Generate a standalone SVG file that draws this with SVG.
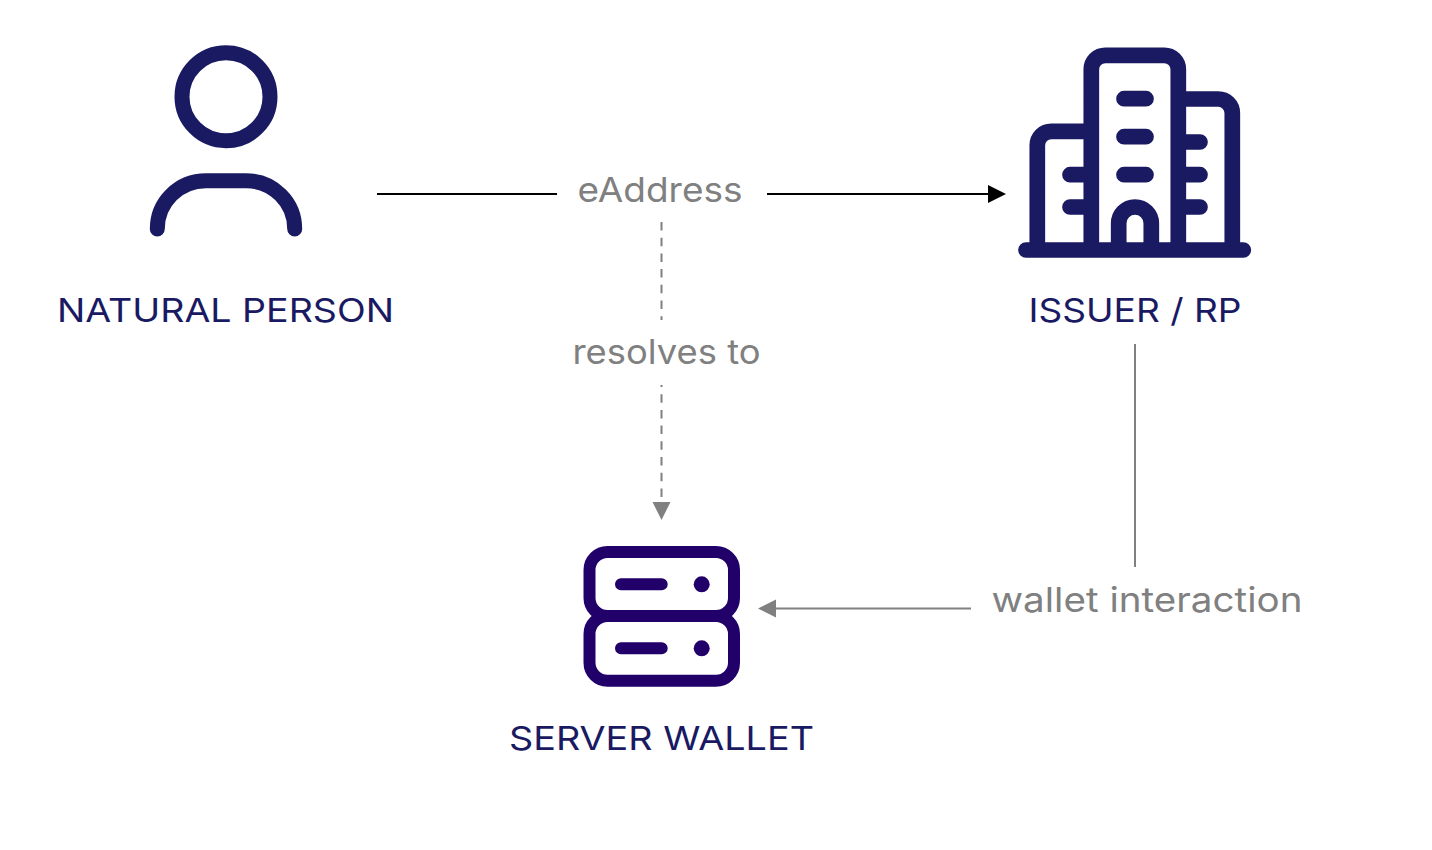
<svg xmlns="http://www.w3.org/2000/svg" width="1432" height="850" viewBox="0 0 1432 850">
<style>
text{font-family:"Inter","Open Sans","Liberation Sans",sans-serif;text-anchor:middle}
.name{font-size:33px;fill:#1a1a63}
.lab{font-size:34px;fill:#808080}
.navy{fill:none;stroke:#1a1a63;stroke-width:15;stroke-linecap:round;stroke-linejoin:round}
.srv{fill:none;stroke:#22006a;stroke-width:12;stroke-linecap:round;stroke-linejoin:round}
.k{fill:none;stroke:#000;stroke-width:2}
.g{fill:none;stroke:#808080;stroke-width:2}
.d{stroke-dasharray:8.500 7.200}
</style>
<rect width="1432" height="850" fill="#fff"/>
<g id="connectors">
<path class="k" d="M377 194H557M767 194H990"/>
<polygon points="1006,194 988,185 988,203" fill="#000"/>
<path class="g d" d="M661.500 222V320"/>
<path class="g d" stroke-dashoffset="6.500" d="M661.500 385V503"/>
<polygon points="661.500,520 652.500,502 670.500,502" fill="#808080"/>
<path class="g" d="M1135 344V567M971 608.500H775"/>
<polygon points="758,608.500 776,599.500 776,617.500" fill="#808080"/>
</g>
<g id="natural-person">
<circle class="navy" cx="226" cy="96.700" r="44"/>
<path class="navy" d="M157.300 229C157.300 202 179 180.700 206 180.700H246C273 180.700 294.700 202 294.700 229"/>
<text class="name" x="225.500" y="322" textLength="337" lengthAdjust="spacingAndGlyphs">NATURAL PERSON</text>
</g>
<g id="issuer-rp">
<path class="navy" style="stroke-width:15.700" d="M1026 250H1243.300M1091.300 250V69.300A14 14 0 0 1 1105.300 55.300H1164.300A14 14 0 0 1 1178.300 69.300V250M1037.300 250V145.300A14 14 0 0 1 1051.300 131.300H1091.300M1178.300 99H1218.300A14 14 0 0 1 1232.300 113V250M1124 98.700H1146M1124 136.700H1146M1124 174.700H1146M1178.300 142H1200M1178.300 174.700H1200M1178.300 207H1200M1070 174.700H1091.300M1070 207H1091.300M1118.700 250V223.300A16.300 16.300 0 0 1 1151.300 223.300V250"/>
<text class="name" x="1135" y="322" textLength="213" lengthAdjust="spacingAndGlyphs">ISSUER / RP</text>
</g>
<g id="server-wallet">
<rect class="srv" x="589.500" y="552" width="144.500" height="64" rx="18"/>
<rect class="srv" x="589.500" y="616" width="144.500" height="64.700" rx="18"/>
<path class="srv" d="M621 584.300H661.700M621 648.300H661.700"/>
<circle cx="701.700" cy="584.300" r="8" fill="#22006a"/>
<circle cx="701.700" cy="648.300" r="8" fill="#22006a"/>
<text class="name" x="661.500" y="750" textLength="305" lengthAdjust="spacingAndGlyphs">SERVER WALLET</text>
</g>
<g id="labels">
<text class="lab" x="660" y="201.500" textLength="165" lengthAdjust="spacingAndGlyphs">eAddress</text>
<text class="lab" x="666.500" y="364" textLength="188" lengthAdjust="spacingAndGlyphs">resolves to</text>
<text class="lab" x="1147" y="611.500" textLength="311" lengthAdjust="spacingAndGlyphs">wallet interaction</text>
</g>
</svg>
